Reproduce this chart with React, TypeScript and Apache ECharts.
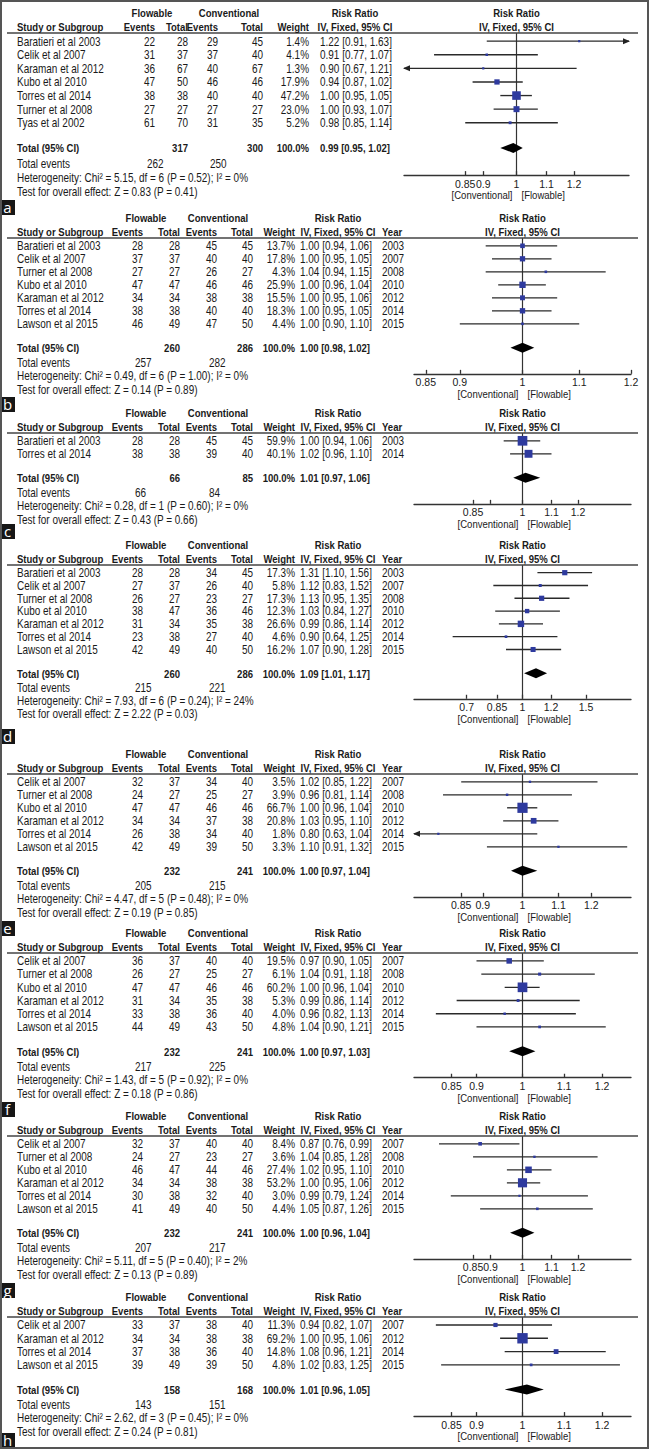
import React, { useEffect, useRef } from "react";
import * as echarts from "echarts";

const FONT = '"Liberation Sans", Arial, sans-serif';
const NARROW = 0.83;

// [study, flowable events, flowable total, conventional events, conventional total, weight %, RR, lower, upper, year]
const studiesA = [
  ["Baratieri et al 2003", 22, 28, 29, 45, 1.4, 1.22, 0.91, 1.63],
  ["Celik et al 2007", 31, 37, 37, 40, 4.1, 0.91, 0.77, 1.07],
  ["Karaman et al 2012", 36, 67, 40, 67, 1.3, 0.9, 0.67, 1.21],
  ["Kubo et al 2010", 47, 50, 46, 46, 17.9, 0.94, 0.87, 1.02],
  ["Torres et al 2014", 38, 38, 40, 40, 47.2, 1.0, 0.95, 1.05],
  ["Turner et al 2008", 27, 27, 27, 27, 23.0, 1.0, 0.93, 1.07],
  ["Tyas et al 2002", 61, 70, 31, 35, 5.2, 0.98, 0.85, 1.14],
];
const studiesB = [
  ["Baratieri et al 2003", 28, 28, 45, 45, 13.7, 1.0, 0.94, 1.06, 2003],
  ["Celik et al 2007", 37, 37, 40, 40, 17.8, 1.0, 0.95, 1.05, 2007],
  ["Turner et al 2008", 27, 27, 26, 27, 4.3, 1.04, 0.94, 1.15, 2008],
  ["Kubo et al 2010", 47, 47, 46, 46, 25.9, 1.0, 0.96, 1.04, 2010],
  ["Karaman et al 2012", 34, 34, 38, 38, 15.5, 1.0, 0.95, 1.06, 2012],
  ["Torres et al 2014", 38, 38, 40, 40, 18.3, 1.0, 0.95, 1.05, 2014],
  ["Lawson et al 2015", 46, 49, 47, 50, 4.4, 1.0, 0.9, 1.1, 2015],
];
const studiesC = [
  ["Baratieri et al 2003", 28, 28, 45, 45, 59.9, 1.0, 0.94, 1.06, 2003],
  ["Torres et al 2014", 38, 38, 39, 40, 40.1, 1.02, 0.96, 1.1, 2014],
];
const studiesD = [
  ["Baratieri et al 2003", 28, 28, 34, 45, 17.3, 1.31, 1.1, 1.56, 2003],
  ["Celik et al 2007", 27, 37, 26, 40, 5.8, 1.12, 0.83, 1.52, 2007],
  ["Turner et al 2008", 26, 27, 23, 27, 17.3, 1.13, 0.95, 1.35, 2008],
  ["Kubo et al 2010", 38, 47, 36, 46, 12.3, 1.03, 0.84, 1.27, 2010],
  ["Karaman et al 2012", 31, 34, 35, 38, 26.6, 0.99, 0.86, 1.14, 2012],
  ["Torres et al 2014", 23, 38, 27, 40, 4.6, 0.9, 0.64, 1.25, 2014],
  ["Lawson et al 2015", 42, 49, 40, 50, 16.2, 1.07, 0.9, 1.28, 2015],
];
const studiesE = [
  ["Celik et al 2007", 32, 37, 34, 40, 3.5, 1.02, 0.85, 1.22, 2007],
  ["Turner et al 2008", 24, 27, 25, 27, 3.9, 0.96, 0.81, 1.14, 2008],
  ["Kubo et al 2010", 47, 47, 46, 46, 66.7, 1.0, 0.96, 1.04, 2010],
  ["Karaman et al 2012", 34, 34, 37, 38, 20.8, 1.03, 0.95, 1.1, 2012],
  ["Torres et al 2014", 26, 38, 34, 40, 1.8, 0.8, 0.63, 1.04, 2014],
  ["Lawson et al 2015", 42, 49, 39, 50, 3.3, 1.1, 0.91, 1.32, 2015],
];
const studiesF = [
  ["Celik et al 2007", 36, 37, 40, 40, 19.5, 0.97, 0.9, 1.05, 2007],
  ["Turner et al 2008", 26, 27, 25, 27, 6.1, 1.04, 0.91, 1.18, 2008],
  ["Kubo et al 2010", 47, 47, 46, 46, 60.2, 1.0, 0.96, 1.04, 2010],
  ["Karaman et al 2012", 31, 34, 35, 38, 5.3, 0.99, 0.86, 1.14, 2012],
  ["Torres et al 2014", 33, 38, 36, 40, 4.0, 0.96, 0.82, 1.13, 2014],
  ["Lawson et al 2015", 44, 49, 43, 50, 4.8, 1.04, 0.9, 1.21, 2015],
];
const studiesG = [
  ["Celik et al 2007", 32, 37, 40, 40, 8.4, 0.87, 0.76, 0.99, 2007],
  ["Turner et al 2008", 24, 27, 23, 27, 3.6, 1.04, 0.85, 1.28, 2008],
  ["Kubo et al 2010", 46, 47, 44, 46, 27.4, 1.02, 0.95, 1.1, 2010],
  ["Karaman et al 2012", 34, 34, 38, 38, 53.2, 1.0, 0.95, 1.06, 2012],
  ["Torres et al 2014", 30, 38, 32, 40, 3.0, 0.99, 0.79, 1.24, 2014],
  ["Lawson et al 2015", 41, 49, 40, 50, 4.4, 1.05, 0.87, 1.26, 2015],
];
const studiesH = [
  ["Celik et al 2007", 33, 37, 38, 40, 11.3, 0.94, 0.82, 1.07, 2007],
  ["Karaman et al 2012", 34, 34, 38, 38, 69.2, 1.0, 0.95, 1.06, 2012],
  ["Torres et al 2014", 37, 38, 36, 40, 14.8, 1.08, 0.96, 1.21, 2014],
  ["Lawson et al 2015", 39, 49, 39, 50, 4.8, 1.02, 0.83, 1.25, 2015],
];

// [flowable total, conventional total, RR, lower, upper]
const totalA = [317, 300, 0.99, 0.95, 1.02];
const totalB = [260, 286, 1.0, 0.98, 1.02];
const totalC = [66, 85, 1.01, 0.97, 1.06];
const totalD = [260, 286, 1.09, 1.01, 1.17];
const totalE = [232, 241, 1.0, 0.97, 1.04];
const totalF = [232, 241, 1.0, 0.97, 1.03];
const totalG = [232, 241, 1.0, 0.96, 1.04];
const totalH = [158, 168, 1.01, 0.96, 1.05];

// total events [flowable, conventional]
const eventsA = [262, 250];
const eventsB = [257, 282];
const eventsC = [66, 84];
const eventsD = [215, 221];
const eventsE = [205, 215];
const eventsF = [217, 225];
const eventsG = [207, 217];
const eventsH = [143, 151];

const hetA = "Heterogeneity: Chi\u00b2 = 5.15, df = 6 (P = 0.52); I\u00b2 = 0%";
const hetB = "Heterogeneity: Chi\u00b2 = 0.49, df = 6 (P = 1.00); I\u00b2 = 0%";
const hetC = "Heterogeneity: Chi\u00b2 = 0.28, df = 1 (P = 0.60); I\u00b2 = 0%";
const hetD = "Heterogeneity: Chi\u00b2 = 7.93, df = 6 (P = 0.24); I\u00b2 = 24%";
const hetE = "Heterogeneity: Chi\u00b2 = 4.47, df = 5 (P = 0.48); I\u00b2 = 0%";
const hetF = "Heterogeneity: Chi\u00b2 = 1.43, df = 5 (P = 0.92); I\u00b2 = 0%";
const hetG = "Heterogeneity: Chi\u00b2 = 5.11, df = 5 (P = 0.40); I\u00b2 = 2%";
const hetH = "Heterogeneity: Chi\u00b2 = 2.62, df = 3 (P = 0.45); I\u00b2 = 0%";

const testA = "Test for overall effect: Z = 0.83 (P = 0.41)";
const testB = "Test for overall effect: Z = 0.14 (P = 0.89)";
const testC = "Test for overall effect: Z = 0.43 (P = 0.66)";
const testD = "Test for overall effect: Z = 2.22 (P = 0.03)";
const testE = "Test for overall effect: Z = 0.19 (P = 0.85)";
const testF = "Test for overall effect: Z = 0.18 (P = 0.86)";
const testG = "Test for overall effect: Z = 0.13 (P = 0.89)";
const testH = "Test for overall effect: Z = 0.24 (P = 0.81)";

const ticksStd = [0.85, 0.9, 1, 1.1, 1.2];
const ticksC = [0.85, 0.9, 1, 1.1, 1.2];
const labelsC = [0.85, 1, 1.1, 1.2];
const ticksD = [0.7, 0.85, 1, 1.2, 1.5];

// axis extents (risk ratio scale)
const rangeA = [0.7, 1 / 0.7];
const rangeB = [1 / 1.2, 1.2];
const rangeC = [0.7, 1 / 0.7];
const rangeD = [0.5, 2];
const rangeE = [0.75, 1 / 0.75];
const rangeF = [0.78, 1 / 0.78];
const rangeG = [0.7, 1 / 0.7];
const rangeH = [0.78, 1 / 0.78];

// layout
const COLS_A = { fe: 155, ft: 188, ce: 218, ct: 263, w: 309, rr: 320, flowC: 152, convC: 229, rrC: 355, year: 0 };
const COLS = { fe: 143, ft: 180, ce: 217, ct: 253, w: 295, rr: 300, flowC: 146, convC: 218, rrC: 338, year: 382 };
const PLOT_A = { left: 404, width: 225 };
const PLOT = { left: 414, width: 217 };

const panels = [
  { letter: "a", studies: studiesA, total: totalA, events: eventsA, het: hetA, test: testA, ticks: ticksStd, labels: ticksStd, range: rangeA, lineY: 33, step: 13.6, labelTop: 200, cols: COLS_A, plot: PLOT_A, year: false },
  { letter: "b", studies: studiesB, total: totalB, events: eventsB, het: hetB, test: testB, ticks: ticksStd, labels: ticksStd, range: rangeB, lineY: 238, step: 13, labelTop: 397, cols: COLS, plot: PLOT, year: true },
  { letter: "c", studies: studiesC, total: totalC, events: eventsC, het: hetC, test: testC, ticks: ticksC, labels: labelsC, range: rangeC, lineY: 433, step: 13, labelTop: 524, cols: COLS, plot: PLOT, year: true },
  { letter: "d", studies: studiesD, total: totalD, events: eventsD, het: hetD, test: testD, ticks: ticksD, labels: ticksD, range: rangeD, lineY: 565, step: 12.8, labelTop: 729, cols: COLS, plot: PLOT, year: true },
  { letter: "e", studies: studiesE, total: totalE, events: eventsE, het: hetE, test: testE, ticks: ticksStd, labels: ticksStd, range: rangeE, lineY: 774, step: 13, labelTop: 921, cols: COLS, plot: PLOT, year: true },
  { letter: "f", studies: studiesF, total: totalF, events: eventsF, het: hetF, test: testF, ticks: ticksStd, labels: ticksStd, range: rangeF, lineY: 953, step: 13.2, labelTop: 1102, cols: COLS, plot: PLOT, year: true },
  { letter: "g", studies: studiesG, total: totalG, events: eventsG, het: hetG, test: testG, ticks: ticksStd, labels: ticksStd, range: rangeG, lineY: 1136, step: 13, labelTop: 1283, cols: COLS, plot: PLOT, year: true },
  { letter: "h", studies: studiesH, total: totalH, events: eventsH, het: hetH, test: testH, ticks: ticksStd, labels: ticksStd, range: rangeH, lineY: 1317, step: 13.3, labelTop: 1433, cols: COLS, plot: PLOT, year: true },
];

const TXT = "#1a1a1a";
const SIZE = 12;
const BSIZE = 11.5;

function T(x: number, y: number, text: any, align = "left", bold = false, size?: number, fill = TXT, family = FONT, sx = NARROW) {
  const fs = size ?? (bold ? BSIZE : SIZE);
  return {
    type: "text",
    x,
    y,
    scaleX: sx,
    silent: true,
    z: 10,
    style: {
      text: String(text),
      fill,
      font: `${bold ? "bold " : ""}${fs}px ${family}`,
      textAlign: align,
      textVerticalAlign: "middle",
      align,
      verticalAlign: "middle",
    },
  };
}

function fmtRR(rr: number, lo: number, hi: number) {
  return `${rr.toFixed(2)} [${lo.toFixed(2)}, ${hi.toFixed(2)}]`;
}

function renderNull(params: any, api: any) {
  const cs = params.coordSys;
  const x = api.coord([api.value(0), 0])[0];
  return {
    type: "line",
    shape: { x1: x, y1: cs.y, x2: x, y2: cs.y + cs.height },
    style: { stroke: "#333", lineWidth: 1.2 },
  };
}

function renderStudy(params: any, api: any) {
  const cs = params.coordSys;
  const idx = api.value(3);
  const c = api.coord([api.value(0), idx]);
  const lo = api.coord([api.value(1), idx]);
  const hi = api.coord([api.value(2), idx]);
  const xmin = cs.x;
  const xmax = cs.x + cs.width;
  const y = c[1];
  const x1 = Math.max(lo[0], xmin);
  const x2 = Math.min(hi[0], xmax);
  const children: any[] = [
    { type: "line", shape: { x1, y1: y, x2, y2: y }, style: { stroke: "#2a2a2a", lineWidth: 1.35 } },
  ];
  if (lo[0] < xmin) {
    children.push({ type: "polygon", shape: { points: [[xmin - 1, y], [xmin + 6, y - 3], [xmin + 6, y + 3]] }, style: { fill: "#222" } });
  }
  if (hi[0] > xmax) {
    children.push({ type: "polygon", shape: { points: [[xmax + 1, y], [xmax - 6, y - 3], [xmax - 6, y + 3]] }, style: { fill: "#222" } });
  }
  const s = Math.max(2.2, 1.25 * Math.sqrt(api.value(4)));
  children.push({ type: "rect", shape: { x: c[0] - s / 2, y: y - s / 2, width: s, height: s }, style: { fill: "#2e3a9e" } });
  return { type: "group", children };
}

function renderDiamond(params: any, api: any) {
  const idx = api.value(3);
  const c = api.coord([api.value(0), idx]);
  const lo = api.coord([api.value(1), idx]);
  const hi = api.coord([api.value(2), idx]);
  const y = c[1];
  return {
    type: "polygon",
    shape: { points: [[lo[0], y], [c[0], y - 5], [hi[0], y], [c[0], y + 5]] },
    style: { fill: "#000" },
  };
}

function buildOption() {
  const grids: any[] = [];
  const xAxes: any[] = [];
  const yAxes: any[] = [];
  const series: any[] = [];
  const graphics: any[] = [];

  graphics.push({ type: "rect", shape: { x: 0, y: 0, width: 649, height: 1449 }, style: { fill: "#fff" }, z: 0, silent: true });

  panels.forEach((p, i) => {
    const n = p.studies.length;
    const col = p.cols;
    const rowY = (k: number) => p.lineY + (k + 0.6) * p.step;
    const axisY = p.lineY + (n + 3.45) * p.step;
    const center = p.plot.left + p.plot.width / 2;

    grids.push({ left: p.plot.left, top: p.lineY, width: p.plot.width, height: (n + 3.45) * p.step });
    xAxes.push({
      gridIndex: i,
      type: "value",
      min: Math.log(p.range[0]),
      max: Math.log(p.range[1]),
      axisLine: { show: true, onZero: false, lineStyle: { color: "#333", width: 1.3 } },
      axisTick: { show: true, inside: true, length: 4, customValues: p.ticks.map((v) => Math.log(v)), lineStyle: { color: "#333", width: 1.3 } },
      axisLabel: {
        show: true,
        customValues: p.labels.map((v) => Math.log(v)),
        formatter: (v: number) => String(Number(Math.exp(v).toPrecision(3))),
        fontSize: 10.5,
        fontFamily: FONT,
        color: TXT,
        margin: 3,
        hideOverlap: false,
      },
      splitLine: { show: false },
    });
    yAxes.push({ gridIndex: i, type: "value", inverse: true, min: -0.6, max: n + 2.85, show: false });

    series.push({
      type: "custom",
      xAxisIndex: i,
      yAxisIndex: i,
      clip: false,
      silent: true,
      data: [[0, 0]],
      encode: { x: 0, y: 1 },
      renderItem: renderNull,
    });
    series.push({
      type: "custom",
      xAxisIndex: i,
      yAxisIndex: i,
      clip: false,
      silent: true,
      data: p.studies.map((s: any, k: number) => [Math.log(s[6]), Math.log(s[7]), Math.log(s[8]), k, s[5]]),
      encode: { x: [0, 1, 2], y: 3 },
      renderItem: renderStudy,
    });
    const t = p.total;
    series.push({
      type: "custom",
      xAxisIndex: i,
      yAxisIndex: i,
      clip: false,
      silent: true,
      data: [[Math.log(t[2]), Math.log(t[3]), Math.log(t[4]), n + 0.85]],
      encode: { x: [0, 1, 2], y: 3 },
      renderItem: renderDiamond,
    });

    // headers
    const h1 = p.lineY - 20;
    const h2 = p.lineY - 6;
    graphics.push(T(col.flowC, h1, "Flowable", "center", true));
    graphics.push(T(col.convC, h1, "Conventional", "center", true));
    graphics.push(T(col.rrC, h1, "Risk Ratio", "center", true));
    graphics.push(T(center, h1, "Risk Ratio", "center", true));
    graphics.push(T(17, h2, "Study or Subgroup", "left", true));
    graphics.push(T(col.fe, h2, "Events", "right", true));
    graphics.push(T(col.ft, h2, "Total", "right", true));
    graphics.push(T(col.ce, h2, "Events", "right", true));
    graphics.push(T(col.ct, h2, "Total", "right", true));
    graphics.push(T(col.w, h2, "Weight", "right", true));
    graphics.push(T(col.rrC, h2, "IV, Fixed, 95% CI", "center", true));
    if (p.year) graphics.push(T(col.year, h2, "Year", "left", true));
    graphics.push(T(center, h2, "IV, Fixed, 95% CI", "center", true));
    graphics.push({
      type: "line",
      silent: true,
      z: 9,
      shape: { x1: 7, y1: p.lineY, x2: 638, y2: p.lineY },
      style: { stroke: "#444", lineWidth: 1.6 },
    });

    // study rows
    p.studies.forEach((s: any, k: number) => {
      const y = rowY(k);
      graphics.push(T(17, y, s[0], "left"));
      graphics.push(T(col.fe, y, s[1], "right"));
      graphics.push(T(col.ft, y, s[2], "right"));
      graphics.push(T(col.ce, y, s[3], "right"));
      graphics.push(T(col.ct, y, s[4], "right"));
      graphics.push(T(col.w, y, `${s[5].toFixed(1)}%`, "right"));
      graphics.push(T(col.rr, y, fmtRR(s[6], s[7], s[8]), "left"));
      if (p.year) graphics.push(T(col.year, y, s[9], "left"));
    });

    // total row
    const ty = rowY(n + 0.85);
    graphics.push(T(17, ty, "Total (95% CI)", "left", true));
    graphics.push(T(col.ft, ty, t[0], "right", true));
    graphics.push(T(col.ct, ty, t[1], "right", true));
    graphics.push(T(col.w, ty, "100.0%", "right", true));
    graphics.push(T(col.rr, ty, fmtRR(t[2], t[3], t[4]), "left", true));

    const ey = rowY(n + 2.0);
    graphics.push(T(17, ey, "Total events", "left"));
    graphics.push(T(col.fe - 8, ey, p.events[0], "left"));
    graphics.push(T(col.ce - 8, ey, p.events[1], "left"));
    graphics.push(T(17, rowY(n + 3.0), p.het, "left"));
    graphics.push(T(17, rowY(n + 4.05), p.test, "left"));

    // favours labels
    graphics.push(T(center - 4, axisY + 20, "[Conventional]", "right", false, 11.5));
    graphics.push(T(center + 5, axisY + 20, "[Flowable]", "left", false, 11.5));

    // panel letter
    graphics.push({ type: "rect", silent: true, z: 11, shape: { x: 0, y: p.labelTop, width: 15, height: 15 }, style: { fill: "#161616" } });
    const lt = T(7.5, p.labelTop + 7, p.letter, "center", false, 15, "#ffffff", '"Open Sans", "Liberation Sans", sans-serif', 1);
    (lt as any).z = 13;
    graphics.push(lt);
  });

  graphics.push({
    type: "rect",
    silent: true,
    z: 12,
    shape: { x: 1, y: 1, width: 647, height: 1447 },
    style: { fill: "none", stroke: "#555", lineWidth: 2 },
  });

  return {
    animation: false,
    backgroundColor: "#fff",
    grid: grids,
    xAxis: xAxes,
    yAxis: yAxes,
    series,
    graphic: { elements: graphics },
  };
}

export default function App() {
  const ref = useRef<HTMLDivElement>(null);
  useEffect(() => {
    document.body.style.margin = "0";
    const chart = echarts.init(ref.current!, null, { renderer: "svg" });
    chart.setOption(buildOption() as any);
    return () => chart.dispose();
  }, []);
  return <div ref={ref} style={{ position: "absolute", left: 0, top: 0, width: 649, height: 1449 }} />;
}
